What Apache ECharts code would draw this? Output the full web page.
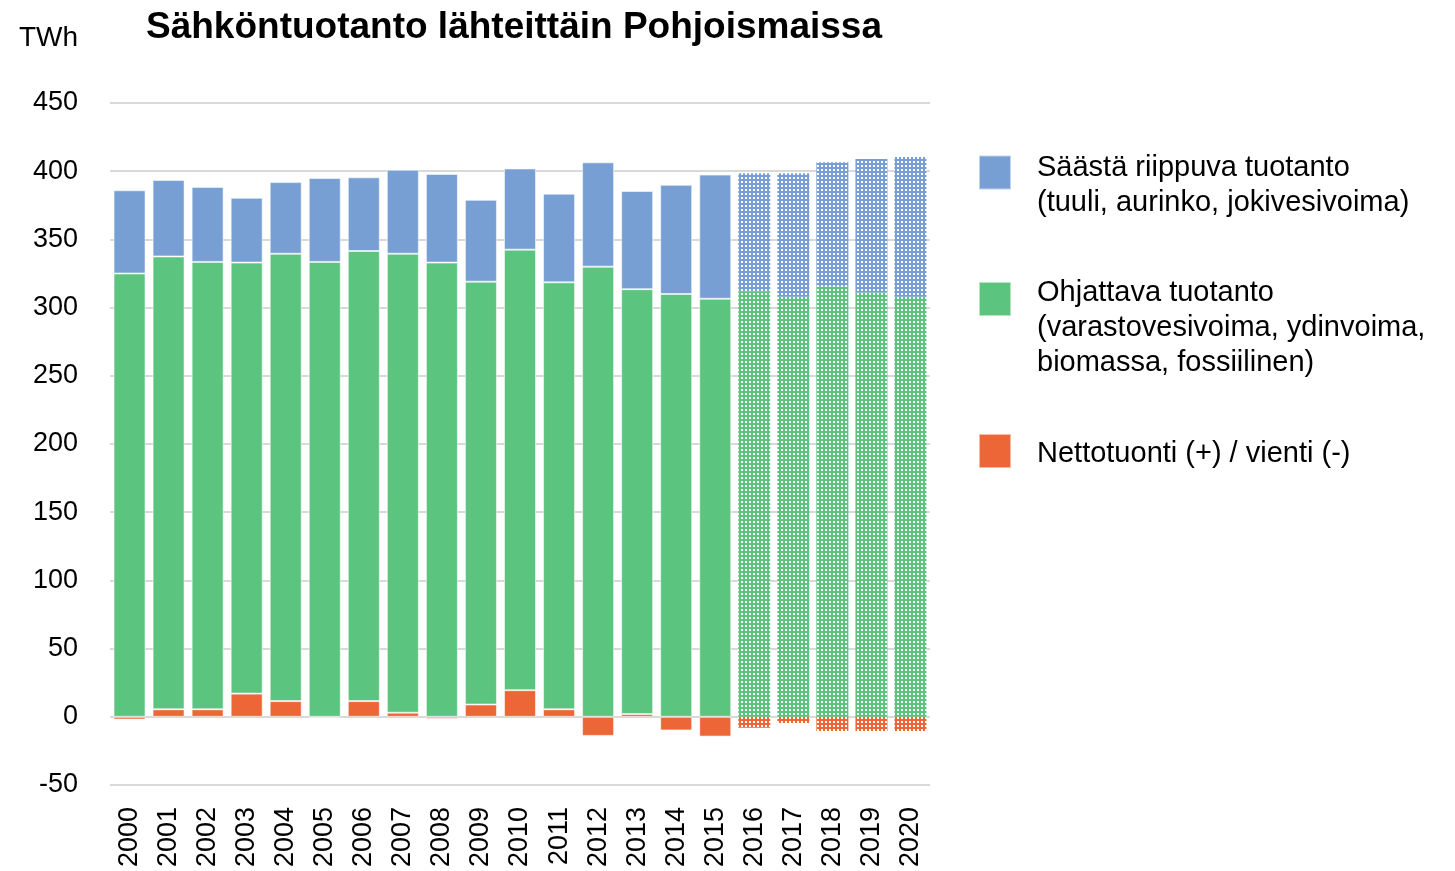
<!DOCTYPE html>
<html>
<head>
<meta charset="utf-8">
<title>Sähköntuotanto lähteittäin Pohjoismaissa</title>
<script src="https://cdn.jsdelivr.net/npm/echarts@6/dist/echarts.min.js"></script>
<style>
  html, body { margin: 0; padding: 0; background: #fff; }
  #chart { width: 1455px; height: 871px; }
</style>
</head>
<body>
<div id="chart"></div>
<script>
// data, TWh
const years = ['2000','2001','2002','2003','2004','2005','2006','2007','2008','2009','2010',
               '2011','2012','2013','2014','2015','2016','2017','2018','2019','2020'];
const netImport = [-2, 5.5, 5.5, 17, 11.5, -1, 11.5, 3, -1.5, 9, 19.5,
                   5.5, -14, 2, -10, -14.5, -8, -4.5, -10.5, -10.5, -10.5];
const controllable = [325, 332, 328, 316, 328, 333.5, 330, 336.5, 333, 310, 323,
                      313, 330, 311.5, 310, 306.5, 312, 308, 315.5, 311, 308];
const weatherDep = [61, 56, 55, 47.5, 52.5, 61.5, 54, 61.5, 65, 60, 59.5,
                    65, 76.5, 72, 80, 91, 86.5, 90.5, 91, 98, 102.5];
const firstForecast = 16; // 2016 onwards drawn dotted

const FONT = 'Liberation Sans, Arial, sans-serif';
const cBlue = '#779fd4', cGreen = '#5bc47e', cOrange = '#ec6638';

function dots(color) {
  const c = document.createElement('canvas');
  c.width = 4; c.height = 4;
  const ctx = c.getContext('2d');
  ctx.fillStyle = color;
  ctx.fillRect(0, 0, 4, 4);
  ctx.fillStyle = '#ffffff';
  ctx.fillRect(1, 1, 2, 2);
  return { image: c, repeat: 'repeat' };
}

function withForecast(values, color) {
  const pat = dots(color);
  return values.map((v, i) => i >= firstForecast ? { value: v, itemStyle: { color: pat, borderWidth: 0 } } : v);
}

const barStyle = (color) => ({ color: color, borderColor: 'rgba(255,255,255,0.55)', borderWidth: 1 });

const chart = echarts.init(document.getElementById('chart'));

// legend text: a blank first line of given height pushes the text so the icon sits by line one
const legendText = (gap, top) => ({
  fontFamily: FONT, fontSize: 29, color: '#000', lineHeight: 35,
  rich: {
    g: { fontSize: 10, lineHeight: gap },
    t: { fontFamily: FONT, fontSize: 29, color: '#000', lineHeight: 35, padding: [top || 0, 0, 0, 21] }
  }
});

const legendBase = {
  left: 978,
  padding: 0,
  orient: 'vertical',
  itemWidth: 32,
  itemHeight: 34,
  itemGap: 0,
  icon: 'rect'
};

chart.setOption({
  animation: false,
  title: [
    { text: 'Sähköntuotanto lähteittäin Pohjoismaissa', left: 141, top: 4,
      textStyle: { fontFamily: FONT, fontSize: 37, fontWeight: 'bold', color: '#000' } },
    { text: 'TWh', left: 14, top: 19,
      textStyle: { fontFamily: FONT, fontSize: 28, fontWeight: 'normal', color: '#000' } }
  ],
  legend: [
    Object.assign({}, legendBase, {
      top: 125, data: ['Säästä riippuva tuotanto'],
      formatter: () => '{g| }\n{t|Säästä riippuva tuotanto}\n{t|(tuuli, aurinko, jokivesivoima)}',
      textStyle: legendText(25)
    }),
    Object.assign({}, legendBase, {
      top: 218, data: ['Ohjattava tuotanto'],
      formatter: () => '{g| }\n{t|Ohjattava tuotanto}\n{t|(varastovesivoima, ydinvoima,}\n{t|biomassa, fossiilinen)}',
      textStyle: legendText(57)
    }),
    Object.assign({}, legendBase, {
      top: 433, data: ['Nettotuonti (+) / vienti (-)'],
      formatter: (n) => '{t|' + n + '}',
      textStyle: legendText(0, 6)
    })
  ],
  grid: { left: 110, right: 525, top: 103, bottom: 86 },
  xAxis: {
    type: 'category',
    data: years,
    axisLine: { show: false },
    axisTick: { show: false },
    axisLabel: { rotate: 90, margin: 22, fontFamily: FONT, fontSize: 27, color: '#000' }
  },
  yAxis: {
    type: 'value',
    min: -50, max: 450, interval: 50,
    axisLine: { show: false },
    axisTick: { show: false },
    axisLabel: { margin: 32, fontFamily: FONT, fontSize: 27, color: '#000' },
    splitLine: { lineStyle: { color: '#d9d9d9', width: 2 } }
  },
  series: [
    {
      name: 'Nettotuonti (+) / vienti (-)', type: 'bar', stack: 'total',
      barWidth: 32, itemStyle: barStyle(cOrange),
      data: withForecast(netImport, cOrange)
    },
    {
      name: 'Ohjattava tuotanto', type: 'bar', stack: 'total',
      barWidth: 32, itemStyle: barStyle(cGreen),
      data: withForecast(controllable, cGreen)
    },
    {
      name: 'Säästä riippuva tuotanto', type: 'bar', stack: 'total',
      barWidth: 32, itemStyle: barStyle(cBlue),
      data: withForecast(weatherDep, cBlue)
    }
  ]
});
</script>
</body>
</html>
